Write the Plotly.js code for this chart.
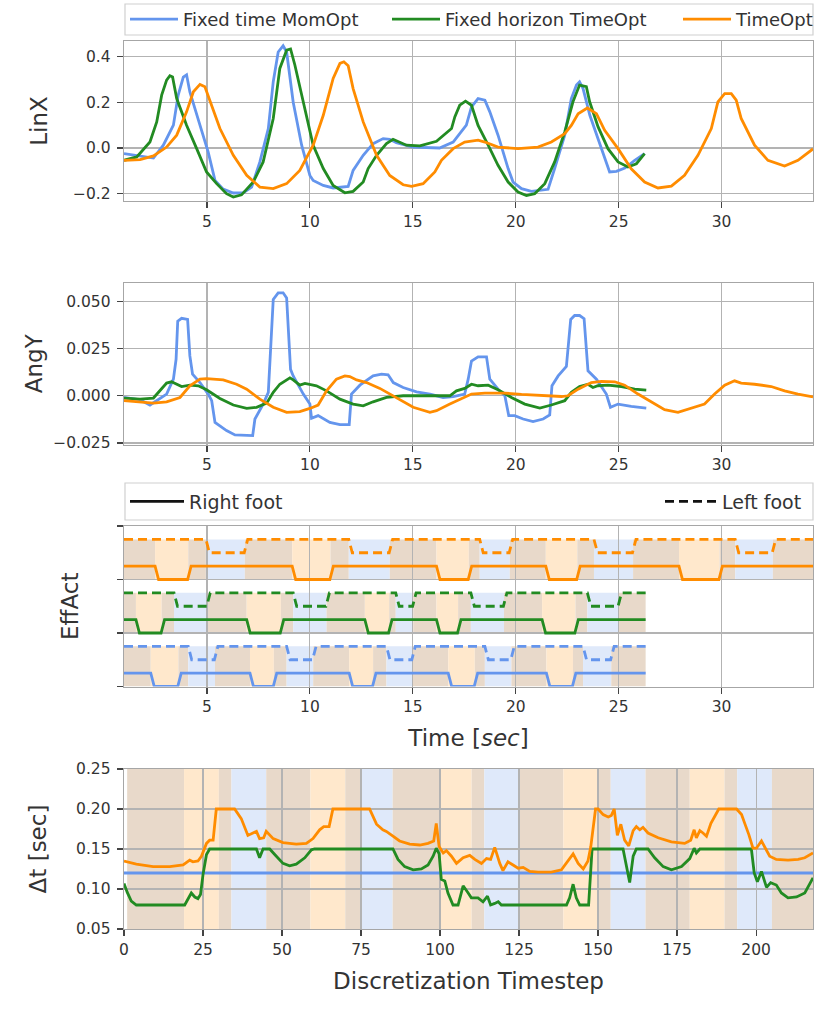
<!DOCTYPE html>
<html><head><meta charset="utf-8">
<script src="https://cdn.plot.ly/plotly-3.0.1.min.js"></script>
<style>body{margin:0;background:#fff;} #chart{width:830px;height:1011px;}</style>
</head><body><div id="chart"></div>
<script>
// ---------- DATA ----------
const seriesNames = ['Fixed time MomOpt', 'Fixed horizon TimeOpt', 'TimeOpt'];

// LinX vs time [t, value]
const linxFixedTime = [[0.97,-0.025],[2.4,-0.044],[2.88,0.012],[3.37,0.1],[3.6,0.23],[3.85,0.31],[4.01,0.32],[4.17,0.245],[4.66,0.1],[5.06,-0.018],[5.39,-0.142],[5.79,-0.18],[6.28,-0.197],[6.76,-0.196],[7.17,-0.171],[7.57,-0.061],[7.98,0.085],[8.22,0.29],[8.46,0.42],[8.7,0.447],[8.87,0.42],[9.19,0.2],[9.6,0.012],[10.0,-0.12],[10.16,-0.142],[10.65,-0.164],[11.13,-0.175],[11.86,-0.168],[12.1,-0.098],[12.59,-0.032],[13.07,0.019],[13.56,0.041],[13.88,0.038],[14.2,0.023],[15.0,0.004],[16.3,0.0],[16.96,0.026],[17.6,0.1],[17.85,0.18],[18.17,0.216],[18.5,0.209],[18.74,0.158],[19.14,0.056],[19.63,-0.09],[19.87,-0.149],[20.28,-0.178],[20.76,-0.19],[21.57,-0.181],[21.89,-0.09],[22.38,0.056],[22.7,0.216],[22.95,0.275],[23.1,0.289],[23.27,0.26],[23.6,0.143],[24.16,-0.003],[24.56,-0.105],[24.89,-0.102],[25.3,-0.088],[25.78,-0.054],[26.26,-0.025]];
const linxFixedHorizon = [[0.97,-0.054],[1.59,-0.039],[2.23,0.026],[2.56,0.114],[2.8,0.231],[3.04,0.297],[3.2,0.316],[3.33,0.311],[3.53,0.216],[4.01,0.099],[4.5,-0.003],[4.98,-0.105],[5.47,-0.156],[5.95,-0.2],[6.28,-0.215],[6.68,-0.205],[7.25,-0.149],[7.73,-0.061],[8.22,0.129],[8.54,0.348],[8.87,0.428],[9.06,0.433],[9.27,0.363],[9.68,0.2],[10.16,0.012],[10.65,-0.09],[11.13,-0.164],[11.7,-0.196],[12.1,-0.19],[12.59,-0.149],[12.83,-0.09],[13.24,-0.032],[13.72,0.019],[14.04,0.038],[14.29,0.029],[14.69,0.012],[15.34,0.009],[16.15,0.029],[16.88,0.085],[17.04,0.136],[17.28,0.187],[17.56,0.205],[17.85,0.187],[18.17,0.099],[18.66,0.012],[19.14,-0.076],[19.63,-0.149],[20.11,-0.193],[20.52,-0.208],[20.92,-0.2],[21.41,-0.156],[21.89,-0.061],[22.38,0.07],[22.78,0.202],[23.1,0.275],[23.43,0.268],[23.59,0.202],[24.0,0.092],[24.48,-0.003],[24.97,-0.061],[25.45,-0.083],[25.86,-0.069],[26.26,-0.025]];
const linxTimeOpt = [[0.97,-0.054],[1.75,-0.051],[2.4,-0.035],[3.04,0.004],[3.53,0.056],[4.01,0.158],[4.34,0.246],[4.66,0.278],[4.9,0.268],[5.15,0.202],[5.63,0.085],[6.28,-0.032],[6.93,-0.12],[7.57,-0.171],[8.22,-0.178],[8.87,-0.156],[9.51,-0.098],[10.16,0.012],[10.65,0.143],[11.13,0.304],[11.46,0.37],[11.65,0.377],[11.86,0.36],[12.1,0.26],[12.59,0.114],[13.24,-0.032],[13.88,-0.12],[14.53,-0.161],[14.94,-0.168],[15.5,-0.156],[16.07,-0.105],[16.39,-0.054],[16.96,-0.003],[17.52,0.026],[18.17,0.034],[18.5,0.026],[19.14,0.004],[20.11,-0.003],[21.08,0.004],[21.73,0.026],[22.38,0.063],[22.7,0.099],[23.03,0.15],[23.48,0.175],[23.92,0.15],[24.32,0.077],[24.97,-0.003],[25.61,-0.091],[26.26,-0.149],[26.91,-0.175],[27.56,-0.167],[28.2,-0.12],[28.85,-0.032],[29.5,0.085],[29.82,0.202],[30.15,0.238],[30.47,0.238],[30.71,0.209],[30.95,0.129],[31.6,0.012],[32.25,-0.054],[33.06,-0.079],[33.71,-0.054],[34.44,-0.004]];

// AngY vs time [t, value]
const angyFixedTime = [[0.97,-0.0009],[1.75,-0.0021],[2.23,-0.0049],[2.56,-0.0026],[3.04,0.0009],[3.37,0.0088],[3.5,0.0193],[3.58,0.0395],[3.77,0.041],[4.06,0.0404],[4.17,0.0211],[4.3,0.0114],[4.66,0.007],[5.06,0.0009],[5.23,-0.0026],[5.39,-0.0141],[5.95,-0.0184],[6.36,-0.0207],[7.22,-0.0211],[7.33,-0.0123],[7.73,-0.0044],[7.98,0.0018],[8.22,0.051],[8.46,0.0545],[8.7,0.0545],[8.87,0.0518],[9.06,0.014],[9.19,0.0105],[9.68,0.0009],[10.0,-0.0044],[10.08,-0.0119],[10.4,-0.0105],[10.97,-0.0141],[11.46,-0.0153],[11.91,-0.0153],[12.02,0.0009],[12.43,0.0056],[13.07,0.0105],[13.48,0.0114],[13.8,0.0111],[14.05,0.007],[14.53,0.0044],[15.18,0.0021],[15.83,0.0009],[16.47,-0.0009],[16.96,-0.0004],[17.52,0.0009],[17.69,0.0088],[17.85,0.0184],[18.17,0.0206],[18.58,0.0206],[18.74,0.0088],[19.14,0.0035],[19.47,0.0],[19.66,-0.0105],[19.95,-0.0105],[20.36,-0.0123],[20.84,-0.0137],[21.33,-0.0123],[21.65,-0.0102],[21.76,0.0053],[22.06,0.0105],[22.46,0.0155],[22.67,0.0404],[22.86,0.0425],[23.1,0.0425],[23.32,0.0408],[23.51,0.0132],[23.92,0.0088],[24.4,0.0009],[24.6,-0.0061],[24.97,-0.0044],[25.61,-0.0056],[26.34,-0.0065]];
const angyFixedHorizon = [[0.97,-0.0012],[1.75,-0.0018],[2.4,-0.0012],[2.72,0.0026],[3.04,0.0067],[3.28,0.0074],[3.53,0.0061],[3.77,0.0049],[4.17,0.0056],[4.58,0.0053],[4.98,0.0032],[5.63,-0.0014],[6.28,-0.0049],[6.93,-0.0067],[7.41,-0.0061],[7.9,-0.0039],[8.22,0.0018],[8.54,0.0061],[9.03,0.0095],[9.19,0.0084],[9.51,0.0056],[9.76,0.0065],[10.32,0.0053],[10.81,0.0026],[11.46,-0.0018],[12.1,-0.0044],[12.59,-0.0053],[13.07,-0.0032],[13.72,-0.0009],[14.53,0.0],[16.8,0.0],[17.12,0.0026],[17.52,0.0039],[17.85,0.0061],[18.17,0.0053],[18.66,0.0056],[19.14,0.0032],[19.79,-0.0009],[20.44,-0.0044],[21.17,-0.0065],[21.73,-0.0049],[22.38,-0.0026],[22.7,0.0018],[23.1,0.0049],[23.51,0.0061],[23.75,0.0044],[23.99,0.0053],[24.48,0.0056],[25.13,0.0049],[25.78,0.0035],[26.34,0.003]];
const angyTimeOpt = [[0.97,-0.0026],[1.75,-0.0035],[2.4,-0.0039],[3.04,-0.0032],[3.69,-0.0009],[4.17,0.0053],[4.66,0.0088],[4.98,0.0091],[5.79,0.0084],[6.44,0.0061],[6.93,0.0035],[7.57,-0.0018],[8.22,-0.0061],[8.87,-0.0088],[9.51,-0.0084],[10.0,-0.0067],[10.4,-0.0049],[10.81,0.0026],[11.29,0.0088],[11.7,0.0105],[11.94,0.0102],[12.27,0.0084],[12.75,0.007],[13.4,0.0039],[14.21,-0.0009],[15.02,-0.0061],[15.83,-0.0088],[16.15,-0.0079],[16.8,-0.0044],[17.52,-0.0009],[17.85,0.0009],[18.5,0.0014],[19.47,0.0014],[20.28,0.0007],[21.25,0.0],[22.22,-0.0004],[22.54,0.0],[23.03,0.0035],[23.67,0.007],[24.16,0.0076],[24.81,0.0074],[25.29,0.0056],[25.94,0.0009],[26.59,-0.0035],[27.23,-0.0074],[27.88,-0.0088],[28.53,-0.0067],[29.17,-0.0044],[29.66,0.0009],[30.15,0.0056],[30.63,0.0079],[30.95,0.0067],[31.6,0.0061],[32.41,0.0049],[33.06,0.0026],[33.71,0.0009],[34.44,-0.0006]];

// Contact phase sequence (DS = double support, R = right foot swing, L = left foot swing)
const phaseKinds = ['DS','R','DS','L','DS','R','DS','L','DS','R','DS','L','DS','R','DS','L','DS','R','DS','L','DS'];
// phase boundary times [sec]
const phaseTimesFixedTime    = [0.97,2.27,3.61,4.09,5.39,7.09,8.25,8.87,10.16,11.91,13.07,13.72,14.98,16.72,18.01,18.5,19.79,21.49,22.78,23.27,24.64,26.31];
const phaseTimesFixedHorizon = [0.97,1.55,2.8,3.4,5.02,6.93,8.59,9.19,10.81,12.67,13.85,14.17,15.02,16.15,17.2,17.82,19.43,21.28,22.9,23.48,25.0,26.31];
const phaseTimesTimeOpt      = [0.97,2.48,4.09,4.95,6.84,9.14,11.0,11.89,13.88,16.15,17.72,18.25,19.71,21.46,22.99,23.8,25.7,27.93,29.9,30.66,32.49,34.44];
// phase boundaries in discretization timesteps
const phaseSteps = [1,19,30,34,45,59,70,75,85,100,110,114,125,139,150,154,165,179,190,194,205,218];

// Delta t vs timestep [step, dt]
const dtFixedTime = [[0,0.12],[218,0.12]];
const dtFixedHorizon = [[0,0.107],[1,0.096],[2.3,0.085],[3.9,0.08],[19.2,0.08],[20.3,0.087],[21.3,0.095],[22.4,0.09],[23.4,0.088],[24.2,0.093],[25,0.118],[26.1,0.143],[27.1,0.15],[41.9,0.15],[42.9,0.139],[44,0.15],[46.1,0.15],[48.2,0.141],[50.3,0.132],[52.4,0.129],[54.5,0.131],[57.2,0.139],[59.3,0.149],[60.3,0.15],[85.1,0.15],[86.7,0.137],[88.8,0.128],[91.5,0.124],[94.1,0.125],[96.2,0.13],[97.8,0.141],[98.8,0.151],[99.7,0.144],[100.4,0.112],[101.5,0.11],[102.5,0.095],[104.1,0.08],[105.7,0.08],[107.3,0.104],[108.9,0.095],[109.9,0.089],[112,0.089],[113.6,0.084],[115,0.091],[116,0.08],[117.3,0.082],[118.4,0.084],[119.4,0.08],[140,0.08],[141,0.089],[142.1,0.106],[143.1,0.089],[144.2,0.08],[147,0.08],[148.1,0.15],[157.9,0.15],[159,0.13],[160,0.108],[161.1,0.141],[162.1,0.15],[165.8,0.15],[167.9,0.139],[170.6,0.128],[173.2,0.124],[176.4,0.128],[179,0.138],[180.4,0.151],[181.1,0.145],[182.2,0.15],[198.5,0.15],[199.4,0.12],[200.4,0.109],[201.7,0.122],[203.3,0.102],[204.6,0.108],[206.4,0.105],[208,0.095],[210.1,0.089],[212.8,0.09],[215.4,0.095],[218,0.114]];
const dtTimeOpt = [[0,0.135],[3.9,0.131],[9.2,0.128],[14.5,0.128],[18.7,0.130],[20.8,0.136],[21.8,0.134],[23.4,0.135],[24.5,0.141],[26.1,0.157],[27.1,0.161],[28.2,0.161],[29.2,0.2],[35,0.2],[37.1,0.188],[39.2,0.167],[40.8,0.17],[41.9,0.172],[42.9,0.163],[44.2,0.164],[45,0.172],[47.2,0.163],[50.3,0.158],[54.5,0.156],[57.7,0.157],[59.8,0.163],[61.9,0.174],[63.2,0.178],[64.9,0.178],[66.1,0.2],[77.7,0.2],[79.9,0.181],[81.9,0.174],[83,0.172],[85.1,0.166],[87.2,0.16],[90.4,0.156],[93.6,0.155],[96.2,0.157],[98,0.16],[98.8,0.182],[99.7,0.153],[101,0.145],[102,0.148],[103.6,0.141],[105.2,0.132],[107.3,0.139],[109.4,0.142],[111,0.137],[113.1,0.132],[114.7,0.138],[116,0.137],[117.3,0.152],[118.9,0.132],[119.9,0.123],[121.5,0.134],[123.1,0.13],[124.7,0.126],[126.3,0.127],[128.4,0.122],[131,0.121],[135.2,0.121],[138.4,0.124],[140.5,0.135],[142.1,0.144],[143.7,0.132],[145.3,0.125],[146.8,0.135],[147.7,0.153],[149.2,0.2],[150,0.2],[151.6,0.193],[153.2,0.19],[154.2,0.192],[155.1,0.2],[156.1,0.167],[157.2,0.181],[158.4,0.161],[159.7,0.154],[161.1,0.173],[162.1,0.178],[163.2,0.174],[164.2,0.177],[165.8,0.17],[169,0.164],[173.2,0.159],[177.4,0.157],[179.3,0.161],[180.4,0.174],[181.1,0.164],[182.2,0.173],[183.2,0.17],[184.3,0.166],[185.7,0.182],[186.9,0.19],[188.2,0.2],[193.8,0.2],[195.4,0.193],[196.4,0.182],[197.7,0.168],[199,0.151],[200.1,0.151],[201.7,0.16],[202.7,0.152],[204.3,0.141],[206.4,0.137],[210.1,0.136],[213.3,0.137],[215.4,0.139],[218,0.145]];

// tick labels
const timeTicks = [5,10,15,20,25,30];
const linxTicks = [-0.2,0,0.2,0.4], linxTickText = ['\u22120.2','0.0','0.2','0.4'];
const angyTicks = [-0.025,0,0.025,0.05], angyTickText = ['\u22120.025','0.000','0.025','0.050'];
const stepTicks = [0,25,50,75,100,125,150,175,200];
const dtTicks = [0.05,0.10,0.15,0.20,0.25], dtTickText = ['0.05','0.10','0.15','0.20','0.25'];

// ---------- STYLE ----------
const colors = ['#6495ED', '#228B22', '#FF8C00'];
const stripeColor = {DS:'rgb(232,217,202)', R:'rgb(255,232,204)', L:'rgb(223,233,250)'};
const FONT = 'DejaVu Sans, Verdana, sans-serif';
const TXT = '#333333';
const W = 830, H = 1011;
const px2x = p => p / W, px2y = p => 1 - p / H;
const LW = 2.8;

const xcol = a => a.map(p => p[0]), ycol = a => a.map(p => p[1]);

const traces = [];
const linxSets = [linxFixedTime, linxFixedHorizon, linxTimeOpt];
const angySets = [angyFixedTime, angyFixedHorizon, angyTimeOpt];
const dtSets = [dtFixedTime, dtFixedHorizon, dtTimeOpt];
const phaseSets = [phaseTimesFixedTime, phaseTimesFixedHorizon, phaseTimesTimeOpt];
const legendIds = ['legend', 'legend2', 'legend3'];

for (let i = 0; i < 3; i++) {
  traces.push({x: xcol(linxSets[i]), y: ycol(linxSets[i]), xaxis:'x', yaxis:'y', mode:'lines',
    name: seriesNames[i], legend: legendIds[i], line:{color:colors[i], width:LW}, showlegend:true});
}
for (let i = 0; i < 3; i++) {
  traces.push({x: xcol(angySets[i]), y: ycol(angySets[i]), xaxis:'x2', yaxis:'y2', mode:'lines',
    name: seriesNames[i], line:{color:colors[i], width:LW}, showlegend:false});
}

// effector activation lines built from phases
const ramp = 0.17;
function footLine(times, foot, base) {
  const hi = base + (foot === 'R' ? 0.25 : 0.75), lo = base + (foot === 'R' ? 0 : 0.5);
  const xs = [times[0]], ys = [hi];
  for (let k = 0; k < phaseKinds.length; k++) {
    if (phaseKinds[k] === foot) {
      const a = times[k], b = times[k + 1];
      xs.push(a, a + ramp, b - 0.03, b - 0.03 + ramp); ys.push(hi, lo, lo, hi);
    }
  }
  xs.push(times[times.length - 1]); ys.push(hi);
  return {xs, ys};
}
for (let i = 0; i < 3; i++) {
  const base = i; // blue bottom, green middle, orange top
  const r = footLine(phaseSets[i], 'R', base), l = footLine(phaseSets[i], 'L', base);
  traces.push({x: r.xs, y: r.ys, xaxis:'x3', yaxis:'y3', mode:'lines', line:{color:colors[i], width:LW}, showlegend:false, hoverinfo:'skip'});
  traces.push({x: l.xs, y: l.ys, xaxis:'x3', yaxis:'y3', mode:'lines', line:{color:colors[i], width:LW, dash:'9px,5px'}, showlegend:false, hoverinfo:'skip'});
}
// foot legend entries
traces.push({x:[null], y:[null], xaxis:'x3', yaxis:'y3', mode:'lines', name:'Right foot', legend:'legend4', line:{color:'#111', width:LW}, showlegend:true});
traces.push({x:[null], y:[null], xaxis:'x3', yaxis:'y3', mode:'lines', name:'Left foot', legend:'legend5', line:{color:'#111', width:LW, dash:'9px,5px'}, showlegend:true});

for (let i = 0; i < 3; i++) {
  traces.push({x: xcol(dtSets[i]), y: ycol(dtSets[i]), xaxis:'x4', yaxis:'y4', mode:'lines',
    name: seriesNames[i], line:{color:colors[i], width:LW}, showlegend:false});
}

// background stripes
const shapes = [];
for (let i = 0; i < 3; i++) {
  const t = phaseSets[i];
  for (let k = 0; k < phaseKinds.length; k++) {
    shapes.push({type:'rect', xref:'x3', yref:'y3', x0:t[k], x1:t[k+1], y0:i, y1:i+0.75,
      fillcolor: stripeColor[phaseKinds[k]], line:{width:0}, layer:'below'});
  }
}
for (let k = 0; k < phaseKinds.length; k++) {
  shapes.push({type:'rect', xref:'x4', yref:'y4', x0:phaseSteps[k], x1:phaseSteps[k+1], y0:0.05, y1:0.25,
    fillcolor: stripeColor[phaseKinds[k]], line:{width:0}, layer:'below'});
}
// legend frames
function frame(xa, xb, ya, yb) {
  return {type:'rect', xref:'paper', yref:'paper', x0:px2x(xa), x1:px2x(xb), y0:px2y(yb), y1:px2y(ya),
    line:{color:'#d0d0d0', width:1.2}, fillcolor:'rgba(255,255,255,0.9)', layer:'below'};
}
shapes.push(frame(125, 813, 4, 35));
shapes.push(frame(125, 813, 483, 520));

const baseAxis = {
  showline:true, mirror:true, linecolor:'#a6a6a6', linewidth:1.3,
  showgrid:true, gridcolor:'#b3b3b3', gridwidth:1.2, zeroline:false,
  ticks:'outside', ticklen:6, tickwidth:1.2, tickcolor:'#444',
  tickfont:{family:FONT, size:15.5, color:TXT}, fixedrange:true
};
const xdom = [px2x(124), px2x(813)];
const timeRange = [0.97, 34.44];
function ax(extra) { return Object.assign({}, baseAxis, extra); }
const titleFont = {family:FONT, size:23, color:TXT};

const legendBase = {orientation:'h', bgcolor:'rgba(0,0,0,0)', borderwidth:0,
  font:{family:FONT, size:18, color:TXT}, xanchor:'left', yanchor:'middle', itemwidth:48, tracegroupgap:0};

const layout = {
  width: W, height: H, margin:{l:0, r:0, t:0, b:0},
  paper_bgcolor:'#fff', plot_bgcolor:'#fff', font:{family:FONT, color:TXT},
  xaxis: ax({domain:xdom, anchor:'y', range:timeRange, tickvals:timeTicks}),
  yaxis: ax({domain:[px2y(201), px2y(41)], anchor:'x', range:[-0.232, 0.468], tickvals:linxTicks, ticktext:linxTickText,
    ticklabelstandoff:3, title:{text:'LinX', font:titleFont, standoff:19}}),
  xaxis2: ax({domain:xdom, anchor:'y2', range:timeRange, tickvals:timeTicks}),
  yaxis2: ax({domain:[px2y(444.5), px2y(283)], anchor:'x2', range:[-0.0258, 0.0597], tickvals:angyTicks, ticktext:angyTickText,
    ticklabelstandoff:3, title:{text:'AngY', font:titleFont, standoff:4}}),
  xaxis3: ax({domain:xdom, anchor:'y3', range:timeRange, tickvals:timeTicks,
    title:{text:'Time [<i>sec</i>]', font:titleFont, standoff:14}}),
  yaxis3: ax({domain:[px2y(686.5), px2y(526)], anchor:'x3', range:[0, 3], tickvals:[0,1,2,3], showticklabels:false,
    title:{text:'EffAct', font:titleFont, standoff:31}}),
  xaxis4: ax({domain:xdom, anchor:'y4', range:[0, 218], tickvals:stepTicks,
    title:{text:'Discretization Timestep', font:titleFont, standoff:15}}),
  yaxis4: ax({domain:[px2y(929), px2y(769)], anchor:'x4', range:[0.05, 0.25], tickvals:dtTicks, ticktext:dtTickText,
    ticklabelstandoff:3, title:{text:'\u0394t [sec]', font:titleFont, standoff:23}}),
  legend:  Object.assign({}, legendBase, {x:px2x(125), y:px2y(19.5)}),
  legend2: Object.assign({}, legendBase, {x:px2x(387), y:px2y(19.5)}),
  legend3: Object.assign({}, legendBase, {x:px2x(678), y:px2y(19.5)}),
  legend4: Object.assign({}, legendBase, {x:px2x(125), y:px2y(501.5), itemwidth:54, font:{family:FONT, size:19, color:TXT}}),
  legend5: Object.assign({}, legendBase, {x:px2x(660), y:px2y(501.5), itemwidth:52, font:{family:FONT, size:19, color:TXT}}),
  shapes: shapes,
  showlegend: true
};

Plotly.newPlot('chart', traces, layout, {displayModeBar:false, staticPlot:true});
</script>
</body></html>
